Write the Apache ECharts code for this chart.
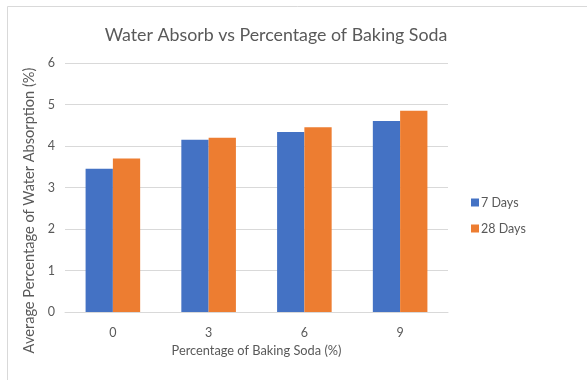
<!DOCTYPE html>
<html>
<head>
<meta charset="utf-8">
<script src="https://cdn.jsdelivr.net/npm/echarts@6/dist/echarts.min.js"></script>
<style>
  html, body { margin: 0; padding: 0; background: #ffffff; }
  #chart { width: 587px; height: 380px; }
</style>
</head>
<body>
<div id="chart"></div>
<script>
// Baking soda content (%) on the category axis
const categories = ['0', '3', '6', '9'];
// Average water absorption (%) after curing
const days7 = [3.45, 4.15, 4.34, 4.6];
const days28 = [3.7, 4.2, 4.45, 4.85];
const seriesNames = ['7 Days', '28 Days'];
const yTicks = [0, 1, 2, 3, 4, 5, 6];

const FONT = 'Lato, "Open Sans", sans-serif';
const TEXT = '#595959';

const chart = echarts.init(document.getElementById('chart'));
chart.setOption({
  animation: false,
  backgroundColor: '#ffffff',
  graphic: [{
    type: 'rect',
    shape: { x: 7.5, y: 6.5, width: 620, height: 400 },
    style: { fill: 'none', stroke: '#d9d9d9', lineWidth: 1 },
    silent: true
  }],
  title: {
    text: 'Water Absorb vs Percentage of Baking Soda',
    left: 271,
    textAlign: 'center',
    top: 21,
    textStyle: { fontFamily: FONT, fontSize: 17.8, fontWeight: 'normal', color: TEXT }
  },
  legend: {
    orient: 'vertical',
    left: 466,
    top: 191,
    itemWidth: 8,
    itemHeight: 8,
    itemGap: 13,
    icon: 'rect',
    data: seriesNames,
    textStyle: { fontFamily: FONT, fontSize: 12.5, color: TEXT, padding: [0, 0, 0, -3] }
  },
  grid: { left: 65, right: 139, top: 63, bottom: 68, containLabel: false },
  xAxis: {
    type: 'category',
    data: categories,
    name: 'Percentage of Baking Soda (%)',
    nameLocation: 'middle',
    nameGap: 29,
    nameTextStyle: { fontFamily: FONT, fontSize: 12.8, color: TEXT },
    axisLine: { lineStyle: { color: '#d9d9d9', width: 1 } },
    axisTick: { show: false },
    axisLabel: { fontFamily: FONT, fontSize: 12.5, color: TEXT, margin: 14 }
  },
  yAxis: {
    type: 'value',
    min: yTicks[0],
    max: yTicks[yTicks.length - 1],
    interval: 1,
    name: 'Average Percentage of Water Absorption (%)',
    nameLocation: 'middle',
    nameGap: 15,
    nameTextStyle: { fontFamily: FONT, fontSize: 14.6, color: TEXT, padding: [0, 46, 0, 0] },
    axisLine: { show: false },
    axisTick: { show: false },
    axisLabel: { fontFamily: FONT, fontSize: 12.5, color: TEXT, margin: 10 },
    splitLine: { lineStyle: { color: '#d9d9d9', width: 1 } }
  },
  series: [
    {
      name: seriesNames[0],
      type: 'bar',
      data: days7,
      barGap: '0%',
      barCategoryGap: '43%',
      itemStyle: { color: '#4472c4' }
    },
    {
      name: seriesNames[1],
      type: 'bar',
      data: days28,
      barGap: '0%',
      barCategoryGap: '43%',
      itemStyle: { color: '#ed7d31' }
    }
  ]
});
</script>
</body>
</html>
